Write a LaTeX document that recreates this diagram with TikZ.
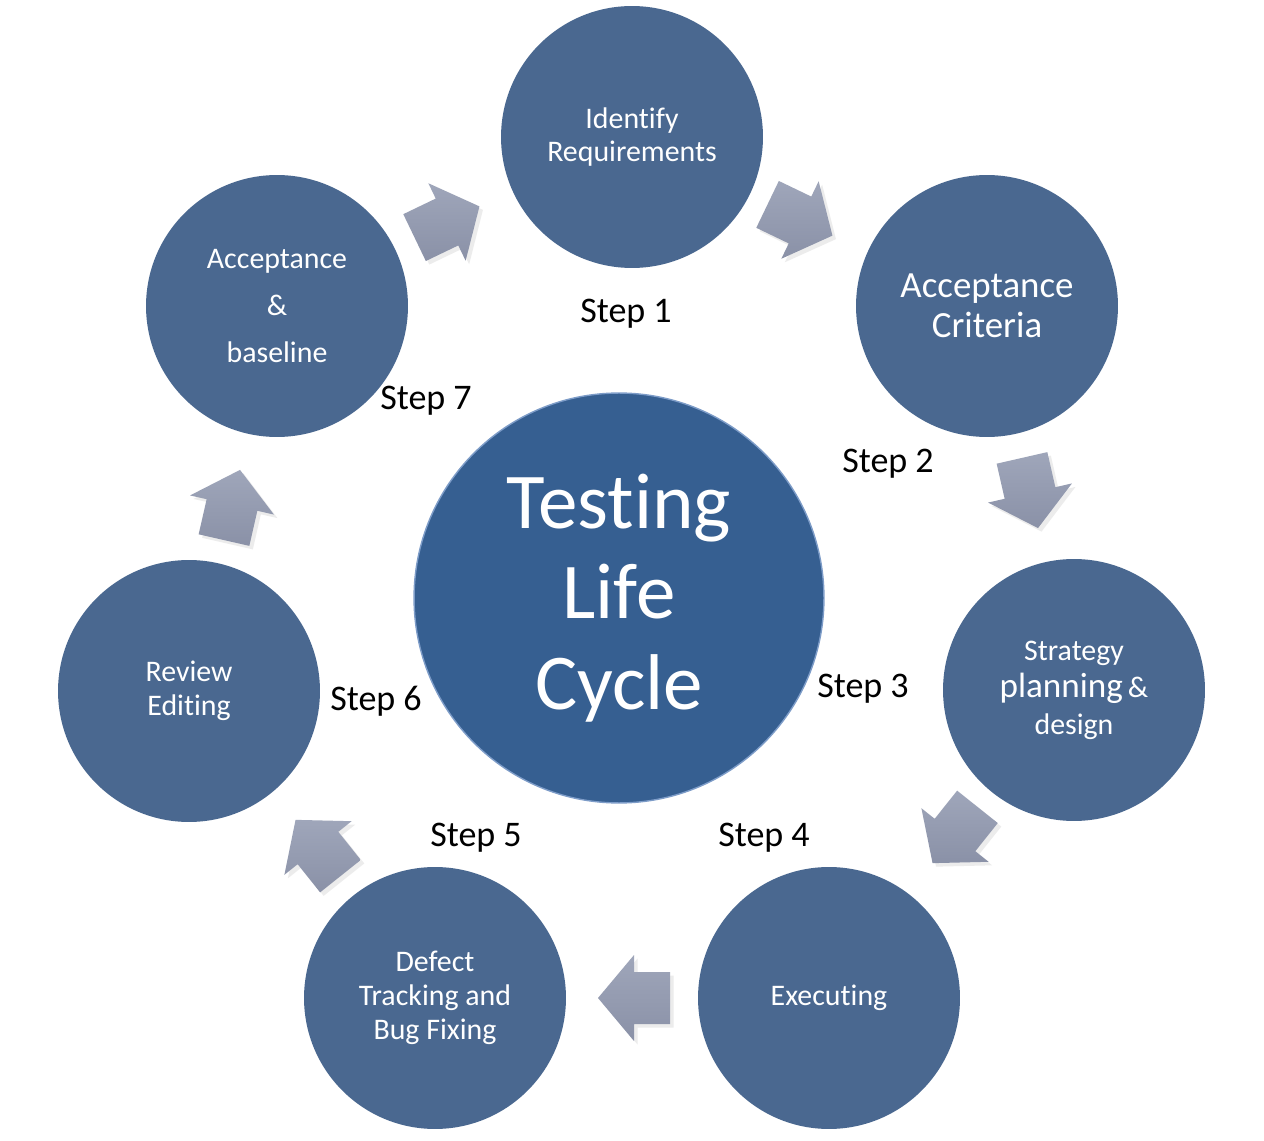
\documentclass[tikz,border=0pt]{standalone}
\usepackage{fontspec}
\setmainfont{Carlito}[Ligatures=NoCommon, RawFeature={-liga;-clig;-calt;-dlig}]
\usetikzlibrary{shadows}
\definecolor{ringblue}{HTML}{4A6890}
\definecolor{coreblue}{HTML}{365F91}
\definecolor{coreedge}{HTML}{7D9CC8}
\definecolor{arrowtop}{HTML}{9FA6BA}
\definecolor{arrowbot}{HTML}{8A91A7}
\begin{document}
\begin{tikzpicture}[x=0.02cm,y=-0.02cm,
  stage/.style={circle, fill=ringblue, minimum size=5.24cm, inner sep=0pt, text=white, align=center, font=\fontsize{17}{19.3}\selectfont},
  core/.style={circle, fill=coreblue, draw=coreedge, line width=0.8pt, minimum size=8.2cm, inner sep=0pt, text=white, align=center, font=\fontsize{45}{51.6}\selectfont},
  flow/.style={top color=arrowtop, bottom color=arrowbot, draw=none, drop shadow={opacity=0.15, shadow xshift=2pt, shadow yshift=-2pt}},
  steplabel/.style={text=black, font=\fontsize{20.5}{24}\selectfont, inner sep=0pt}
]
\useasboundingbox (0,0) rectangle (1264,1141);
\fill[white] (0,0) rectangle (1264,1141);

% stages
\node[stage] (s1) at (632,137) {Identify\\Requirements};
\node[stage, font=\fontsize{21}{22.7}\selectfont] (s2) at (987,306) {Acceptance\\Criteria};
\node[stage, font=\fontsize{17}{21}\selectfont] (s3) at (1074,690) {Strategy\\{\fontsize{20}{21}\selectfont planning}\,\&\\design};
\node[stage] (s4) at (829,998) {Executing};
\node[stage] (s5) at (435,998) {Defect\\Tracking and\\Bug Fixing};
\node[stage] (s6) at (189,691) {Review\\Editing};
\node[stage, font=\fontsize{17}{26.6}\selectfont] (s7) at (277,306) {Acceptance\\\&\\baseline};

% core
\node[core] (core) at (619,598) {Testing\\Life\\Cycle};

% flow arrows (block arrows between the stages)
\foreach \px/\py/\rot in {447/222/25.7, 800/220/-25.7, 1030/493/-77.14, 955/835/-128.57, 634/998/180, 318/848/128.57, 232/505/77.14}{
  \begin{scope}[shift={(\px,\py)}, rotate=\rot]
    \path[flow] (-36,-26) -- (0,-26) -- (0,-43) -- (36,0) -- (0,43) -- (0,26) -- (-36,26) -- cycle;
  \end{scope}
}

% step labels
\node[steplabel] (l1) at (626,314) {Step 1};
\node[steplabel] (l2) at (888,464) {Step 2};
\node[steplabel] (l3) at (863,689) {Step 3};
\node[steplabel] (l4) at (764,838) {Step 4};
\node[steplabel] (l5) at (476,838) {Step 5};
\node[steplabel] (l6) at (376,701) {Step 6};
\node[steplabel] (l7) at (426,401) {Step 7};
\end{tikzpicture}
\end{document}
